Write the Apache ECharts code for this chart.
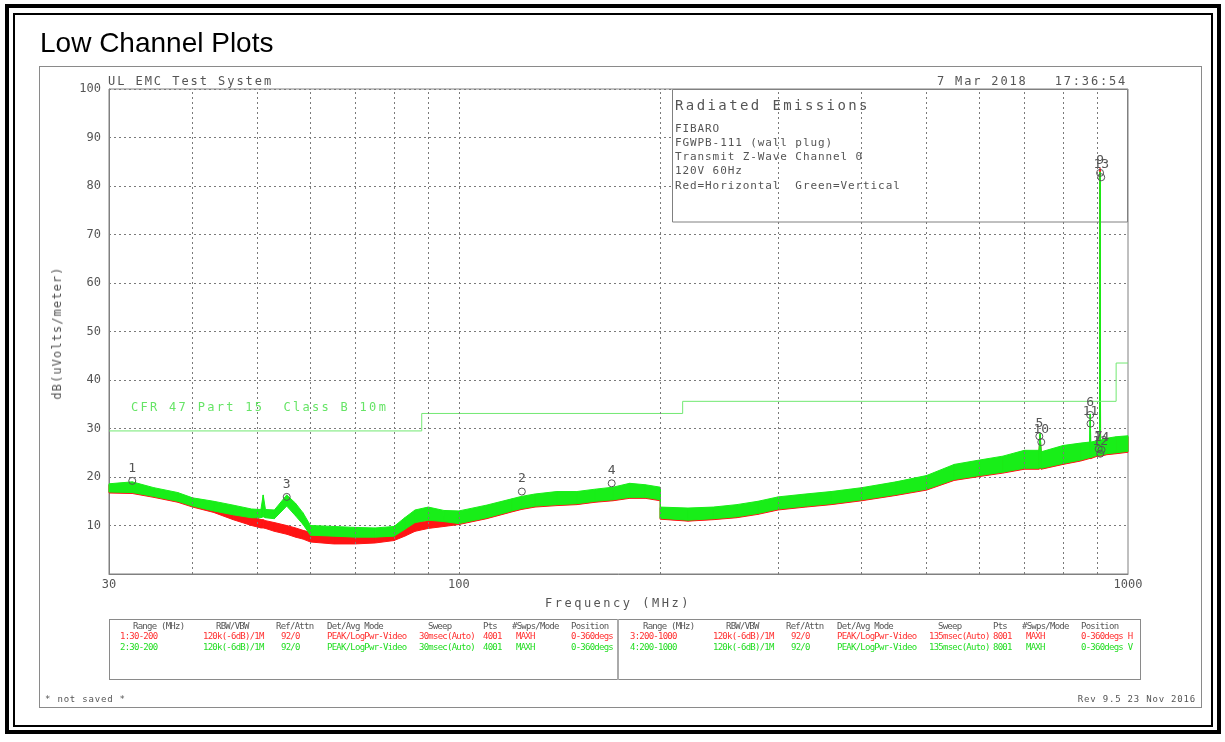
<!DOCTYPE html>
<html>
<head>
<meta charset="utf-8">
<title>Low Channel Plots</title>
<script src="https://cdn.jsdelivr.net/npm/echarts@6/dist/echarts.min.js"></script>
<style>
  html, body { margin: 0; padding: 0; background: #fff; }
  #page { position: relative; width: 1225px; height: 742px; overflow: hidden; background: #fff; }
  #chart { position: absolute; left: 0; top: 0; width: 1225px; height: 742px; z-index: 1; }
  .box { position: absolute; box-sizing: border-box; }
  .t { position: absolute; z-index: 2; white-space: pre; line-height: 1;
       font-family: 'DejaVu Sans Mono', monospace; color: #555; }
  .half { position: absolute; top: 619px; height: 61px; overflow: hidden; z-index: 2; }
  .cell { position: absolute; white-space: pre; line-height: 1; font-family: 'DejaVu Sans Mono', monospace;
          font-size: 9px; letter-spacing: -0.75px; }
</style>
</head>
<body>
<div id="page">
  <!-- page frames -->
  <div class="box" style="left:5px;top:4px;width:1216px;height:730px;border:4px solid #000"></div>
  <div class="box" style="left:13px;top:13px;width:1200px;height:714px;border:2px solid #000"></div>
  <div class="box" style="left:39px;top:66px;width:1163px;height:642px;border:1px solid #8a8a8a"></div>
  <div class="box" style="left:109px;top:619px;width:1032px;height:61px;border:1px solid #8a8a8a"></div>
  <div class="box" style="left:617px;top:619px;width:2px;height:61px;background:#aaa"></div>

  <div id="chart"></div>

  <div class="t" style="left:40px;top:29px;font-family:'Liberation Sans',Arial,sans-serif;font-size:28px;color:#000">Low Channel Plots</div>
  <div class="t" style="left:108px;top:75px;font-size:12px;letter-spacing:1.95px">UL EMC Test System</div>
  <div class="t" style="left:937px;top:75px;font-size:12px;letter-spacing:1.83px">7 Mar 2018   17:36:54</div>

  <div class="t" style="left:675px;top:98px;font-size:14px;letter-spacing:2.4px">Radiated Emissions</div>
  <div class="t" style="left:675px;top:123px;font-size:11px;letter-spacing:0.9px">FIBARO</div>
  <div class="t" style="left:675px;top:137px;font-size:11px;letter-spacing:0.9px">FGWPB-111 (wall plug)</div>
  <div class="t" style="left:675px;top:151px;font-size:11px;letter-spacing:0.9px">Transmit Z-Wave Channel 0</div>
  <div class="t" style="left:675px;top:165px;font-size:11px;letter-spacing:0.9px">120V 60Hz</div>
  <div class="t" style="left:675px;top:180px;font-size:11px;letter-spacing:0.9px">Red=Horizontal  Green=Vertical</div>

  <div class="t" style="left:131px;top:401px;font-size:12px;letter-spacing:2.3px;color:#66e466">CFR 47 Part 15  Class B 10m</div>

  <div class="t" style="left:57px;top:333px;font-size:12px;letter-spacing:1.1px;transform:translate(-50%,-50%) rotate(-90deg)">dB(uVolts/meter)</div>
  <div class="t" style="left:545px;top:597px;font-size:12px;letter-spacing:2.5px">Frequency (MHz)</div>

  <div class="half" id="tblLeft" style="left:110px;width:507px"></div>
  <div class="half" id="tblRight" style="left:620px;width:520px"></div>

  <div class="t" style="left:45px;top:695px;font-size:9px;letter-spacing:0.8px">* not saved *</div>
  <div class="t" style="right:29px;top:695px;font-size:9px;letter-spacing:0.8px">Rev 9.5 23 Nov 2016</div>
</div>

<script>
// scan frequencies (MHz), two scans: 30-200 and 200-1000
const scanFreq = [30, 32.5, 35, 38, 40, 43, 46, 49, 50.6, 51, 51.4, 53, 55.3, 57, 58.5, 60, 65, 70, 75, 80,
  83, 86, 90, 95, 100, 110, 120, 124, 130, 140, 150, 160, 170, 180, 190, 200,
  200, 220, 240, 260, 280, 300, 330, 360, 400, 450, 500, 550, 600, 650, 700, 736, 739, 742,
  800, 850, 876, 878, 880, 900, 907, 908.4, 910, 930, 960, 1000]

// vertical polarisation (green), lower / upper edge of the trace
const greenLow = [16.9, 16.8, 16.0, 15.0, 14.0, 13.0, 12.2, 11.6, 11.6, 11.8, 11.6, 11.4, 14.0, 12.0, 10.2, 8.0, 7.8, 7.6, 7.6, 7.8,
  9.2, 10.6, 11.1, 10.8, 10.4, 11.6, 13.0, 13.5, 14.0, 14.3, 14.5, 15.0, 15.3, 15.8, 15.8, 15.3,
  11.5, 11.1, 11.4, 11.8, 12.5, 13.4, 14.0, 14.5, 15.3, 16.4, 17.5, 19.5, 20.3, 21.0, 21.8, 21.8, 22.0, 21.8,
  22.8, 23.5, 24.0, 24.0, 24.0, 24.5, 24.5, 24.5, 24.5, 24.8, 25.0, 25.3]
const greenHigh = [18.6, 19.0, 17.8, 16.8, 15.7, 15.0, 14.2, 13.4, 13.3, 16.3, 13.3, 13.2, 16.3, 14.6, 12.6, 10.0, 9.8, 9.6, 9.5, 9.8,
  11.6, 13.2, 13.8, 13.1, 13.0, 14.2, 15.5, 16.0, 16.5, 17.0, 17.0, 17.5, 17.9, 18.7, 18.4, 17.9,
  13.8, 13.6, 13.8, 14.3, 15.0, 15.9, 16.5, 17.0, 17.8, 19.0, 20.3, 22.6, 23.5, 24.3, 25.5, 25.5, 29.0, 25.2,
  26.5, 27.0, 27.2, 33.0, 27.2, 27.5, 27.5, 82.9, 27.6, 28.0, 28.3, 28.5]

// horizontal polarisation (red)
const redLow = [16.7, 16.6, 15.8, 14.8, 13.8, 12.7, 11.2, 10.0, 9.5, 9.5, 9.4, 8.8, 8.2, 7.6, 7.2, 6.6, 6.2, 6.2, 6.4, 6.9,
  7.8, 8.8, 9.4, 9.8, 10.2, 11.4, 12.8, 13.3, 13.8, 14.1, 14.3, 14.8, 15.1, 15.6, 15.6, 15.1,
  11.3, 10.9, 11.2, 11.6, 12.3, 13.2, 13.8, 14.3, 15.1, 16.2, 17.3, 19.3, 20.1, 20.8, 21.6, 21.6, 21.8, 21.6,
  22.6, 23.3, 23.8, 23.8, 23.8, 24.3, 24.3, 24.3, 24.3, 24.6, 24.8, 25.1]
const redHigh = [18.4, 18.6, 17.4, 16.4, 15.3, 14.4, 13.2, 12.0, 11.2, 11.2, 11.0, 10.6, 10.0, 9.5, 9.0, 8.6, 8.0, 7.9, 8.0, 8.6,
  9.6, 10.6, 11.0, 11.8, 12.6, 14.0, 15.3, 15.8, 16.2, 16.6, 16.8, 17.2, 17.5, 18.0, 18.0, 17.5,
  13.6, 13.4, 13.6, 14.0, 14.8, 15.7, 16.3, 16.8, 17.6, 18.8, 20.0, 22.4, 23.3, 24.0, 25.3, 25.3, 28.6, 25.0,
  26.3, 26.8, 27.0, 27.0, 27.0, 27.3, 27.3, 83.6, 27.4, 27.8, 28.1, 28.3]

// CFR 47 Part 15 Class B limit at 10 m
const limitFreq = [30, 88, 216, 960, 1000]
const limitLevel = [29.5, 33.1, 35.6, 43.5, 43.5]

// markers
const markerName = ['1', '3', '2', '4', '5', '10', '6', '11', '9', '13', '7', '12', '14']
const markerFreq = [32.5, 55.3, 124.2, 169.2, 737, 742, 878, 879, 908.4, 912, 904, 909, 913]
const markerLevel = [19.2, 15.9, 17.0, 18.7, 28.4, 27.2, 32.8, 31.0, 82.7, 81.8, 25.8, 24.8, 25.6]

const gridFreq = [40, 50, 60, 70, 80, 90, 100, 200, 300, 400, 500, 600, 700, 800, 900]
const xTickLabels = [30, 100, 1000]

const RED = '#ff1414'
const GREEN = '#18ee18'
const LIMIT = '#72e872'
const MONO = 'DejaVu Sans Mono'

// trace envelope: one quad per pair of neighbouring samples
const bandData = (lo, hi) => scanFreq.slice(0, -1).map((f, i) =>
  [f, lo[i], hi[i], scanFreq[i + 1], lo[i + 1], hi[i + 1]])

const bandSeries = (name, lo, hi, color) => ({
  name, type: 'custom', z: 3, silent: true,
  data: bandData(lo, hi),
  encode: { x: [0, 3], y: [1, 2, 4, 5] },
  renderItem: (params, api) => {
    const pts = [
      api.coord([api.value(0), api.value(1)]),
      api.coord([api.value(3), api.value(4)]),
      api.coord([api.value(3), api.value(5)]),
      api.coord([api.value(0), api.value(2)])
    ]
    return {
      type: 'polygon',
      shape: { points: pts },
      style: { fill: color, stroke: color, lineWidth: 1 }
    }
  }
})

const chart = echarts.init(document.getElementById('chart'), null, { renderer: 'canvas' })

const option = {
  animation: false,
  backgroundColor: 'transparent',
  grid: {
    left: 109, right: 97, top: 89, bottom: 168,
    show: true, borderColor: '#808080', borderWidth: 1
  },
  xAxis: {
    type: 'log', logBase: 10, min: 30, max: 1000,
    axisLine: { lineStyle: { color: '#808080' } },
    axisTick: { show: false },
    splitLine: { show: false },
    axisLabel: {
      color: '#555', fontFamily: MONO, fontSize: 12, margin: 5,
      showMinLabel: true, showMaxLabel: true,
      formatter: v => xTickLabels.includes(Math.round(v)) ? String(Math.round(v)) : ''
    }
  },
  yAxis: {
    type: 'value', min: 0, max: 100, interval: 10,
    axisLine: { show: true, lineStyle: { color: '#808080' } },
    axisTick: { show: false },
    splitLine: { lineStyle: { color: '#7a7a7a', type: [2, 3], width: 1 } },
    axisLabel: {
      color: '#555', fontFamily: MONO, fontSize: 12, margin: 8,
      formatter: v => v === 0 ? '' : String(v)
    }
  },
  graphic: {
    elements: [{
      type: 'rect', z: 2, silent: true,
      shape: { x: 672.5, y: 89.5, width: 455, height: 132.5 },
      style: { fill: '#fff', stroke: '#808080', lineWidth: 1 }
    }]
  },
  series: [
    {
      // vertical grid lines on the log axis
      name: 'grid', type: 'line', z: 1, silent: true, data: [],
      markLine: {
        silent: true, symbol: ['none', 'none'], label: { show: false },
        lineStyle: { color: '#7a7a7a', type: [2, 3], width: 1 },
        data: gridFreq.map(f => ({ xAxis: f }))
      }
    },
    bandSeries('Horizontal', redLow, redHigh, RED),
    bandSeries('Vertical', greenLow, greenHigh, GREEN),
    {
      name: 'Limit', type: 'line', step: 'end', z: 4, silent: true,
      data: limitFreq.map((f, i) => [f, limitLevel[i]]),
      symbol: 'none', lineStyle: { color: LIMIT, width: 1 }
    },
    {
      name: 'Markers', type: 'scatter', z: 5, silent: true,
      data: markerFreq.map((f, i) => [f, markerLevel[i], markerName[i]]),
      symbol: 'circle', symbolSize: 7,
      itemStyle: { color: 'rgba(0,0,0,0)', borderColor: '#555', borderWidth: 1, opacity: 1 },
      label: {
        show: true, position: 'top', distance: 2,
        color: '#555', fontFamily: MONO, fontSize: 13,
        formatter: p => p.value[2]
      }
    }
  ]
}

chart.setOption(option)

// settings table under the plot
const headX = [23, 106, 166, 217, 318, 373, 402, 461]
const rowX = [10, 93, 171, 217, 309, 373, 406, 461]
const tableHead = ['Range (MHz)', 'RBW/VBW', 'Ref/Attn', 'Det/Avg Mode', 'Sweep', 'Pts', '#Swps/Mode', 'Position']
const leftRows = [
  { color: '#ff3030', cells: ['1:30-200', '120k(-6dB)/1M', '92/0', 'PEAK/LogPwr-Video', '30msec(Auto)', '4001', 'MAXH', '0-360degs H'] },
  { color: '#22dd22', cells: ['2:30-200', '120k(-6dB)/1M', '92/0', 'PEAK/LogPwr-Video', '30msec(Auto)', '4001', 'MAXH', '0-360degs V'] }
]
const rightRows = [
  { color: '#ff3030', cells: ['3:200-1000', '120k(-6dB)/1M', '92/0', 'PEAK/LogPwr-Video', '135msec(Auto)', '8001', 'MAXH', '0-360degs H'] },
  { color: '#22dd22', cells: ['4:200-1000', '120k(-6dB)/1M', '92/0', 'PEAK/LogPwr-Video', '135msec(Auto)', '8001', 'MAXH', '0-360degs V'] }
]

function fillTable(el, rows) {
  const add = (txt, x, y, color) => {
    const s = document.createElement('div')
    s.className = 'cell'
    s.style.left = x + 'px'
    s.style.top = y + 'px'
    s.style.color = color
    s.textContent = txt
    el.appendChild(s)
  }
  tableHead.forEach((h, i) => add(h, headX[i], 3, '#555'))
  rows.forEach((r, j) => r.cells.forEach((c, i) => add(c, rowX[i], 13 + j * 10.5, r.color)))
}
fillTable(document.getElementById('tblLeft'), leftRows)
fillTable(document.getElementById('tblRight'), rightRows)
</script>
</body>
</html>
